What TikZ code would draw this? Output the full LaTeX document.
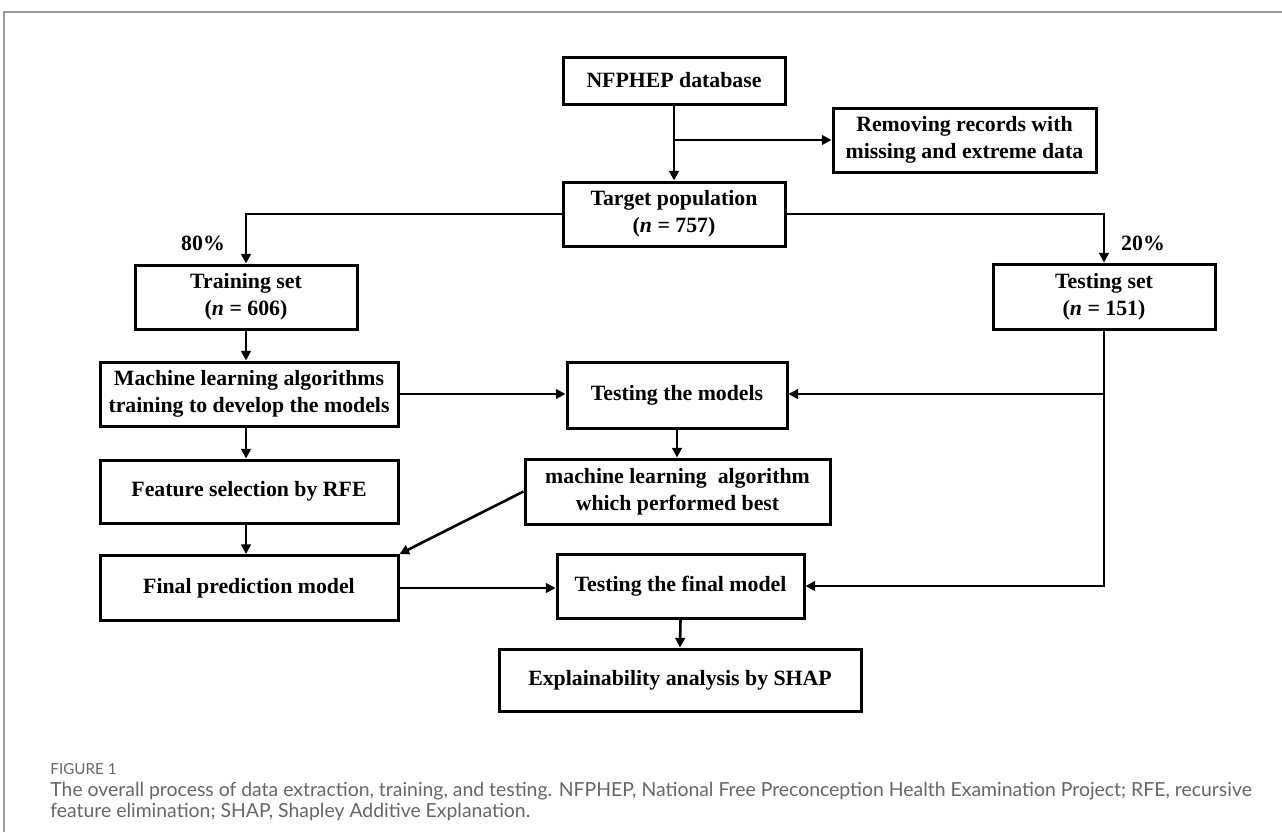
\documentclass[tikz,border=0pt]{standalone}
\usepackage{fontspec}
\setmainfont{Liberation Serif}
\newfontfamily\capfont{Lato}
\usetikzlibrary{arrows.meta,calc}
\definecolor{framegray}{HTML}{9A9A9A}
\definecolor{capgray}{HTML}{666666}
\begin{document}
\begin{tikzpicture}[x=0.5pt,y=-0.5pt,
  box/.style={draw=black,line width=1.5pt,align=center,inner sep=0pt,
    font=\fontsize{10.9}{13.6}\selectfont\bfseries},
  conn/.style={line width=1.3pt,-{Triangle[length=4.8pt,width=4.8pt]}},
  pct/.style={font=\fontsize{10.9}{13.6}\selectfont\bfseries,inner sep=0pt}]
\useasboundingbox (0,0) rectangle (1282,832);
% frame
\draw[framegray,line width=0.8pt] (4,832) -- (4,12) -- (1282,12);
% boxes
\node[box,minimum width=111pt,minimum height=23.5pt] (nf) at (674,80.5) {NFPHEP database};
\node[box,minimum width=131.5pt,minimum height=32pt] (rm) at (964.5,140) {Removing records with\\missing and extreme data};
\node[box,minimum width=111pt,minimum height=32pt] (tp) at (674,214) {Target population\\(\textit{n} = 757)};
\node[box,minimum width=111pt,minimum height=32pt] (tr) at (246,297) {Training set\\(\textit{n} = 606)};
\node[box,minimum width=111pt,minimum height=32.5pt] (ts) at (1104,296.5) {Testing set\\(\textit{n} = 151)};
\node[box,minimum width=149pt,minimum height=32pt] (ml) at (249,394) {Machine learning algorithms\\training to develop the models};
\node[box,minimum width=110pt,minimum height=33pt] (tm) at (677,395.5) {Testing the models};
\node[box,minimum width=152.5pt,minimum height=32.5pt] (mb) at (677.5,491.5) {machine learning~ algorithm\\which performed best};
\node[box,minimum width=149pt,minimum height=31.5pt] (fs) at (249,491.5) {Feature selection by RFE};
\node[box,minimum width=149pt,minimum height=32.5pt] (fp) at (249,588) {Final prediction model};
\node[box,minimum width=123.5pt,minimum height=32pt] (tf) at (680.5,586) {Testing the final model};
\node[box,minimum width=181pt,minimum height=31pt] (ex) at (680,680) {Explainability analysis by SHAP};
% labels
\node[pct] (p80) at (203,243) {80\%};
\node[pct] (p20) at (1143,243) {20\%};
% connectors
\coordinate (b1) at (nf.south |- rm.west);
\draw[conn] (nf.south) -- (tp.north);
\draw[conn] (b1) -- (rm.west);
\draw[conn] (tp.west) -| (tr.north);
\draw[conn] (tp.east) -| (ts.north);
\draw[conn] (tr.south) -- (tr.south |- ml.north);
\draw[conn] (tr.south |- ml.south) -- (tr.south |- fs.north);
\draw[conn] (tr.south |- fs.south) -- (tr.south |- fp.north);
\draw[conn] (ml.east) -- (ml.east -| tm.west);
\draw[conn] (ts.south) |- (tf.east);
\coordinate (b2) at (ts.south |- ml.east);
\draw[conn] (b2) -- (b2 -| tm.east);
\draw[conn] (tm.south) -- (tm.south |- mb.north);
\draw[conn] (mb.west) -- (fp.north east);
\draw[conn] (fp.east) -- (fp.east -| tf.west);
\draw[conn] (tf.south) -- (ex.north);
% caption
\node[anchor=west,inner sep=0pt,text=capgray,font=\capfont\fontsize{7.6}{9}\selectfont] (fig) at (50,769) {FIGURE 1};
\node[anchor=west,inner sep=0pt,text=capgray,font=\capfont\fontsize{9.7}{11}\selectfont] (cap1) at (50,791) {The overall process of data extraction, training, and testing. NFPHEP, National Free Preconception Health Examination Project; RFE, recursive};
\node[anchor=west,inner sep=0pt,text=capgray,font=\capfont\fontsize{9.7}{11}\selectfont] (cap2) at (50,812) {feature elimination; SHAP, Shapley Additive Explanation.};
\end{tikzpicture}
\end{document}
